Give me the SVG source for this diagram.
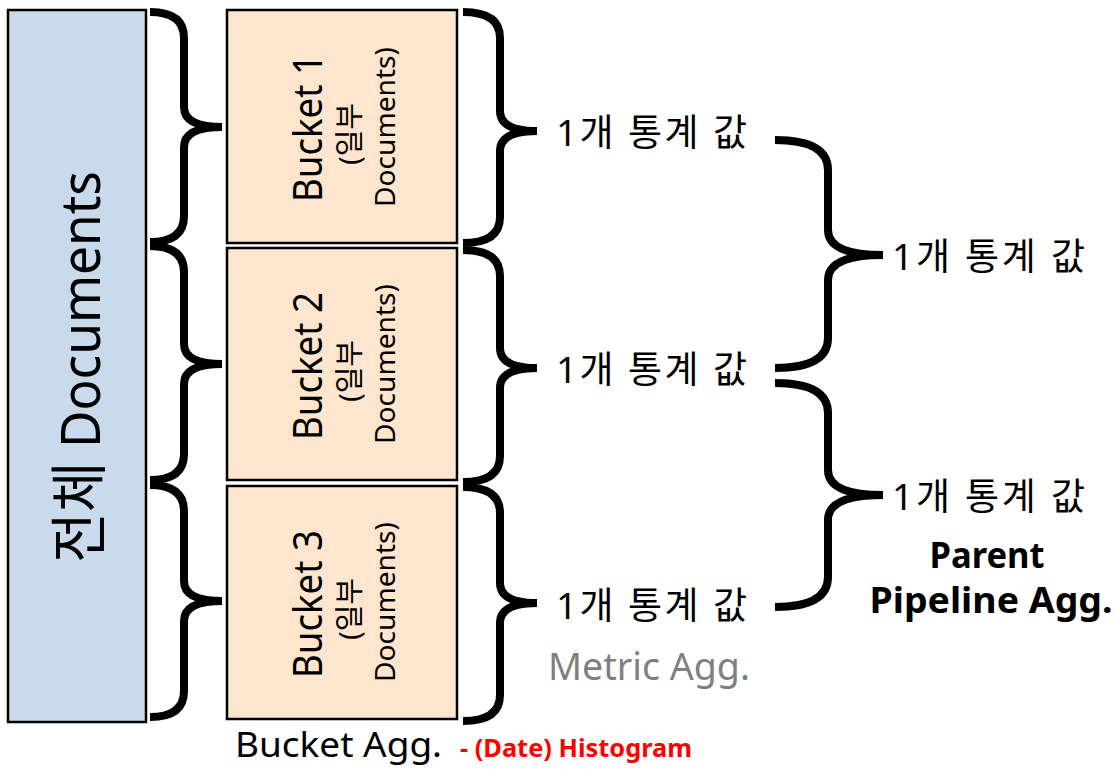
<svg xmlns="http://www.w3.org/2000/svg" width="1119" height="776" viewBox="0 0 1119 776">
<style>
text{font-family:"Noto Sans","Noto Sans CJK KR",sans-serif;fill:#000}
.all{fill:#C9DAEC;stroke:#000;stroke-width:2.5}
.bk{fill:#FDE5CE;stroke:#000;stroke-width:2.5}
.brace{fill:none;stroke:#000;stroke-width:8;stroke-linejoin:miter;stroke-miterlimit:4;stroke-linecap:butt}
.big{font-size:40px}
.sm{font-size:29px}
.val{font-size:37px}
.bold{font-weight:bold}
</style>
<rect width="1119" height="776" fill="#fff"/>
<g id="all-docs">
<rect class="all" x="8" y="10" width="138" height="712"/>
<text transform="translate(100,367) rotate(-90)" text-anchor="middle" font-size="54" textLength="392" lengthAdjust="spacingAndGlyphs"><tspan font-size="58">전체</tspan> Documents</text>
</g>
<g id="bucket1">
<rect class="bk" x="227" y="10" width="230" height="233"/>
<text class="big" transform="translate(322,128) rotate(-90)" text-anchor="middle" textLength="148" lengthAdjust="spacingAndGlyphs">Bucket 1</text>
<text class="sm" transform="translate(360,134) rotate(-90)" text-anchor="middle">(일부</text>
<text transform="translate(395,127) rotate(-90)" text-anchor="middle" font-size="28" textLength="160" lengthAdjust="spacingAndGlyphs">Documents)</text>
</g>
<g id="bucket2">
<rect class="bk" x="227" y="248" width="230" height="232"/>
<text class="big" transform="translate(322,366) rotate(-90)" text-anchor="middle" textLength="148" lengthAdjust="spacingAndGlyphs">Bucket 2</text>
<text class="sm" transform="translate(360,371) rotate(-90)" text-anchor="middle">(일부</text>
<text transform="translate(395,364) rotate(-90)" text-anchor="middle" font-size="28" textLength="160" lengthAdjust="spacingAndGlyphs">Documents)</text>
</g>
<g id="bucket3">
<rect class="bk" x="227" y="486" width="230" height="233"/>
<text class="big" transform="translate(322,604) rotate(-90)" text-anchor="middle" textLength="148" lengthAdjust="spacingAndGlyphs">Bucket 3</text>
<text class="sm" transform="translate(360,609) rotate(-90)" text-anchor="middle">(일부</text>
<text transform="translate(395,602) rotate(-90)" text-anchor="middle" font-size="28" textLength="160" lengthAdjust="spacingAndGlyphs">Documents)</text>
</g>
<g id="connectors">
<path class="brace" d="M150,12 Q184,12 184,38 L184,107 Q184,127 222,127 Q184,127 184,147 L184,216 Q184,242 150,242"/>
<path class="brace" d="M150,246 Q184,246 184,272 L184,344 Q184,364 222,364 Q184,364 184,384 L184,454 Q184,480 150,480"/>
<path class="brace" d="M150,485 Q184,485 184,511 L184,581 Q184,601 222,601 Q184,601 184,621 L184,691 Q184,717 150,717"/>
<path class="brace" d="M463,12 Q500,12 500,38 L500,111 Q500,131 537,131 Q500,131 500,151 L500,217 Q500,243 463,243"/>
<path class="brace" d="M463,250 Q500,250 500,276 L500,348 Q500,368 537,368 Q500,368 500,388 L500,456 Q500,482 463,482"/>
<path class="brace" d="M463,487 Q500,487 500,513 L500,583 Q500,603 537,603 Q500,603 500,623 L500,695 Q500,721 463,721"/>
<path class="brace" d="M775,140 Q828,140 828,170 L828,230 Q828,255 883,255 Q828,255 828,280 L828,338 Q828,368 775,368"/>
<path class="brace" d="M775,383 Q828,383 828,413 L828,470 Q828,495 883,495 Q828,495 828,520 L828,577 Q828,607 775,607"/>
</g>
<g id="metric1"><text class="val" x="556" y="146" textLength="191" lengthAdjust="spacing">1개 통계 값</text></g>
<g id="metric2"><text class="val" x="556" y="383" textLength="191" lengthAdjust="spacing">1개 통계 값</text></g>
<g id="metric3"><text class="val" x="556" y="619" textLength="191" lengthAdjust="spacing">1개 통계 값</text></g>
<g id="pipeline1"><text class="val" x="892" y="270" textLength="193" lengthAdjust="spacing">1개 통계 값</text></g>
<g id="pipeline2"><text class="val" x="892" y="510" textLength="193" lengthAdjust="spacing">1개 통계 값</text></g>
<g id="labels">
<text class="bold" x="987" y="568" font-size="35" text-anchor="middle" textLength="115" lengthAdjust="spacingAndGlyphs">Parent</text>
<text class="bold" x="991" y="613" font-size="36" text-anchor="middle" textLength="243" lengthAdjust="spacingAndGlyphs">Pipeline Agg.</text>
<text x="548" y="680" font-size="38" style="fill:#7F7F7F" textLength="202" lengthAdjust="spacingAndGlyphs">Metric Agg.</text>
<text x="235" y="757" font-size="35" textLength="207" lengthAdjust="spacingAndGlyphs">Bucket Agg.</text>
<text class="bold" x="460" y="757" font-size="25" style="fill:#FF0000" textLength="232" lengthAdjust="spacingAndGlyphs">- (Date) Histogram</text>
</g>
</svg>
